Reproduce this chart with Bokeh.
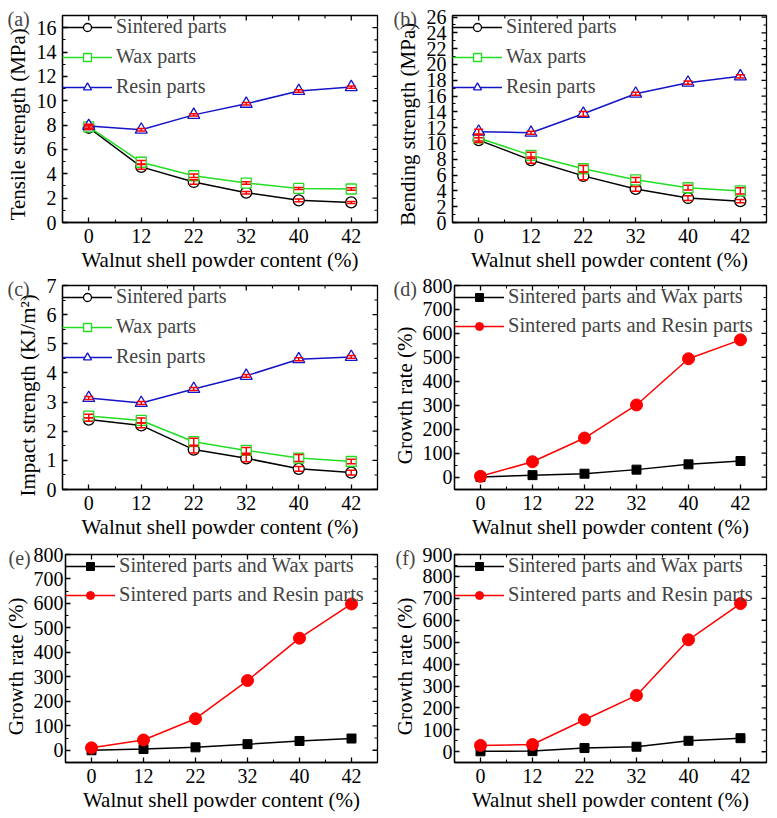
import math
from bokeh.plotting import figure
from bokeh.models import (ColumnDataSource, Whisker, TeeHead, LinearAxis, FixedTicker,
                          Range1d, Legend, LegendItem, Title)
from bokeh.layouts import column, row
from bokeh.embed import file_html
from bokeh.resources import INLINE

# ---------------- data ----------------
contents = ["0", "12", "22", "32", "40", "42"]
xlabel = "Walnut shell powder content (%)"

tensile_sintered = [7.78, 4.57, 3.33, 2.45, 1.82, 1.65]
tensile_wax = [7.85, 4.95, 3.84, 3.24, 2.80, 2.75]
tensile_resin = [7.92, 7.62, 8.84, 9.75, 10.80, 11.12]
tensile_sintered_err = [0.15, 0.20, 0.18, 0.10, 0.12, 0.08]
tensile_wax_err = [0.15, 0.15, 0.15, 0.10, 0.08, 0.10]
tensile_resin_err = [0.15, 0.10, 0.10, 0.10, 0.10, 0.10]

bending_sintered = [10.43, 7.90, 5.90, 4.25, 3.10, 2.70]
bending_wax = [10.70, 8.50, 6.80, 5.40, 4.40, 4.00]
bending_resin = [11.50, 11.36, 13.76, 16.30, 17.70, 18.50]
bending_sintered_err = [0.30, 0.40, 0.50, 0.30, 0.30, 0.20]
bending_wax_err = [0.40, 0.40, 0.40, 0.30, 0.30, 0.40]
bending_resin_err = [0.30, 0.20, 0.30, 0.20, 0.20, 0.20]

impact_sintered = [2.40, 2.20, 1.37, 1.07, 0.71, 0.58]
impact_wax = [2.52, 2.37, 1.64, 1.34, 1.08, 0.96]
impact_resin = [3.14, 2.97, 3.45, 3.90, 4.47, 4.55]
impact_sintered_err = [0.06, 0.08, 0.12, 0.12, 0.08, 0.08]
impact_wax_err = [0.06, 0.08, 0.12, 0.10, 0.12, 0.08]
impact_resin_err = [0.05, 0.05, 0.05, 0.05, 0.05, 0.05]

growth_tensile_wax = [0, 8, 14, 31, 53, 67]
growth_tensile_resin = [3, 64, 163, 301, 494, 573]
growth_bending_wax = [0, 5, 12, 25, 38, 48]
growth_bending_resin = [10, 42, 129, 285, 458, 598]
growth_impact_wax = [2, 3, 17, 23, 50, 62]
growth_impact_resin = [29, 33, 146, 257, 511, 676]

ticks_a = [0, 2, 4, 6, 8, 10, 12, 14, 16]
ticks_b = [0, 2, 4, 6, 8, 10, 12, 14, 16, 18, 20, 22, 24, 26]
ticks_c = [0, 1, 2, 3, 4, 5, 6, 7]
ticks_de = [0, 100, 200, 300, 400, 500, 600, 700, 800]
ticks_f = [0, 100, 200, 300, 400, 500, 600, 700, 800, 900]

FONT = "Liberation Serif"
BLACK = "#000000"
GREEN = "#22dd22"
BLUE = "#1414c8"
RED = "#ff0000"
NB = "\u00a0"  # trailing non-breaking spaces nudge the vertical axis titles downwards

xs = list(range(len(contents)))
x_minor = [i + 0.5 for i in xs[:-1]]


def style_axis(ax, tick_size="20px", standoff=8):
    ax.axis_line_width = 1.3
    ax.major_tick_line_width = 1.3
    ax.minor_tick_line_width = 1.1
    ax.major_tick_in = 5
    ax.major_tick_out = 0
    ax.minor_tick_in = 3
    ax.minor_tick_out = 0
    ax.major_label_text_font = FONT
    ax.axis_label_text_font = FONT
    ax.axis_label_text_font_style = "normal"
    ax.axis_label_text_font_size = "21px"
    ax.axis_label_text_color = "black"
    ax.major_label_text_color = "black"
    ax.major_label_text_font_size = tick_size
    ax.major_label_standoff = standoff


def make_fig(width, height, left, right, top, bottom, yr, yticks, yminor_step,
             ylabel, tag, tag_dx, ytick_size="20px", ystandoff=6, ylabel_standoff=4):
    p = figure(width=width, height=height, x_range=Range1d(-0.5, 5.5),
               y_range=Range1d(*yr), output_backend="svg", toolbar_location=None,
               x_axis_type=None, y_axis_type=None,
               min_border_left=left, min_border_right=right,
               min_border_top=top, min_border_bottom=bottom)
    p.outline_line_color = "black"
    p.outline_line_width = 1.3
    p.background_fill_color = "white"
    p.border_fill_color = "white"

    ymin_ticks = []
    v = yticks[0] - yminor_step
    while v < yr[1]:
        if v > yr[0] and v not in yticks:
            ymin_ticks.append(v)
        v += yminor_step

    bx = LinearAxis(ticker=FixedTicker(ticks=xs, minor_ticks=x_minor), axis_label=xlabel,
                    major_label_overrides={i: c for i, c in zip(xs, contents)})
    style_axis(bx, "20px", 6)
    bx.axis_label_standoff = 2
    p.add_layout(bx, "below")

    ly = LinearAxis(ticker=FixedTicker(ticks=yticks, minor_ticks=ymin_ticks), axis_label=ylabel)
    style_axis(ly, ytick_size, ystandoff)
    ly.axis_label_standoff = ylabel_standoff
    p.add_layout(ly, "left")

    # inward ticks along the top and right edges of the frame (half of each dash is clipped)
    p.scatter(xs, [yr[1]] * len(xs), marker="dash", angle=math.pi / 2, size=10,
              line_color="black", line_width=1.3)
    p.scatter(x_minor, [yr[1]] * len(x_minor), marker="dash", angle=math.pi / 2, size=6,
              line_color="black", line_width=1.1)
    p.scatter([5.5] * len(yticks), yticks, marker="dash", size=10,
              line_color="black", line_width=1.3)
    p.scatter([5.5] * len(ymin_ticks), ymin_ticks, marker="dash", size=6,
              line_color="black", line_width=1.1)

    # panel tag, to the left of the top tick label
    p.add_layout(Title(text=tag, align="left", offset=tag_dx, standoff=-28,
                       vertical_align="bottom",
                       text_font=FONT, text_font_size="20px",
                       text_font_style="normal"), "above")
    return p


def add_series(p, vals, errs, color, marker, size):
    src = ColumnDataSource(dict(x=xs, y=vals,
                                lo=[v - e for v, e in zip(vals, errs)],
                                hi=[v + e for v, e in zip(vals, errs)]))
    lr = p.line("x", "y", source=src, line_color=color, line_width=1.5)
    mr = p.scatter("x", "y", source=src, marker=marker, size=size,
                   line_color=color, fill_color="white", line_width=1.3)
    w = Whisker(base="x", upper="hi", lower="lo", source=src, line_color=RED,
                line_width=1.5, level="overlay",
                upper_head=TeeHead(size=9, line_color=RED, line_width=1.5),
                lower_head=TeeHead(size=9, line_color=RED, line_width=1.5))
    p.add_layout(w)
    return [lr, mr]


def add_growth(p, vals, color, marker, size):
    lr = p.line(xs, vals, line_color=color, line_width=1.5)
    mr = p.scatter(xs, vals, marker=marker, size=size, line_color=color,
                   fill_color=color)
    return [lr, mr]


def add_legend(p, items, spacing, font_size):
    lg = Legend(items=[LegendItem(label=l, renderers=r) for l, r in items],
                location="top_left", margin=0, padding=5, glyph_width=50,
                glyph_height=20, label_height=20, label_standoff=4,
                spacing=spacing, border_line_color=None, background_fill_alpha=0,
                label_text_font=FONT, label_text_font_size=font_size)
    p.add_layout(lg)


W1, W2 = 389, 388
H1, H2, H3 = 274, 267, 277

# (a)
pa = make_fig(W1, H1, 62, 12, 15, 51, (0, 17), ticks_a, 1,
              "Tensile strength (MPa)" + NB * 2, "(a)", -55)
ra = add_series(pa, tensile_sintered, tensile_sintered_err, BLACK, "circle", 11)
wa = add_series(pa, tensile_wax, tensile_wax_err, GREEN, "square", 10)
za = add_series(pa, tensile_resin, tensile_resin_err, BLUE, "triangle", 12)
add_legend(pa, [("Sintered parts", ra), ("Wax parts", wa), ("Resin parts", za)], 7, "20px")

# (b)
pb = make_fig(W2, H1, 63, 11, 15, 51, (0, 26.2), ticks_b, 1,
              "Bending strength (MPa)" + NB * 2, "(b)", -59)
rb = add_series(pb, bending_sintered, bending_sintered_err, BLACK, "circle", 11)
wb = add_series(pb, bending_wax, bending_wax_err, GREEN, "square", 10)
zb = add_series(pb, bending_resin, bending_resin_err, BLUE, "triangle", 12)
add_legend(pb, [("Sintered parts", rb), ("Wax parts", wb), ("Resin parts", zb)], 7, "20px")

# (c)
pc = make_fig(W1, H2, 62, 12, 11, 48, (0, 7), ticks_c, 0.5,
              "Impact strength (KJ/m²)" + NB * 3, "(c)", -55)
rc = add_series(pc, impact_sintered, impact_sintered_err, BLACK, "circle", 11)
wc = add_series(pc, impact_wax, impact_wax_err, GREEN, "square", 10)
zc = add_series(pc, impact_resin, impact_resin_err, BLUE, "triangle", 12)
add_legend(pc, [("Sintered parts", rc), ("Wax parts", wc), ("Resin parts", zc)], 7, "20px")

# (d)
pd_ = make_fig(W2, H2, 63, 11, 11, 48, (-52, 800), ticks_de, 50,
               "Growth rate (%)" + NB * 3, "(d)", -61, ytick_size="20px", ystandoff=2, ylabel_standoff=3)
gd1 = add_growth(pd_, growth_tensile_wax, BLACK, "square", 9)
gd2 = add_growth(pd_, growth_tensile_resin, RED, "circle", 12)
add_legend(pd_, [("Sintered parts and Wax parts", gd1),
                 ("Sintered parts and Resin parts", gd2)], 6, "20.5px")

# (e)
pe = make_fig(W1, H3, 62, 12, 13, 56, (-50, 800), ticks_de, 50,
              "Growth rate (%)" + NB * 3, "(e)", -57, ytick_size="20px", ystandoff=2, ylabel_standoff=3)
ge1 = add_growth(pe, growth_bending_wax, BLACK, "square", 9)
ge2 = add_growth(pe, growth_bending_resin, RED, "circle", 12)
add_legend(pe, [("Sintered parts and Wax parts", ge1),
                ("Sintered parts and Resin parts", ge2)], 6, "20.5px")

# (f)
pf = make_fig(W2, H3, 63, 11, 13, 56, (-49, 900), ticks_f, 50,
              "Growth rate (%)" + NB * 3, "(f)", -59, ytick_size="20px", ystandoff=2, ylabel_standoff=3)
gf1 = add_growth(pf, growth_impact_wax, BLACK, "square", 9)
gf2 = add_growth(pf, growth_impact_resin, RED, "circle", 12)
add_legend(pf, [("Sintered parts and Wax parts", gf1),
                ("Sintered parts and Resin parts", gf2)], 6, "20.5px")

layout = column(row(pa, pb), row(pc, pd_), row(pe, pf))

open("out.html", "w").write(file_html(layout, INLINE))
